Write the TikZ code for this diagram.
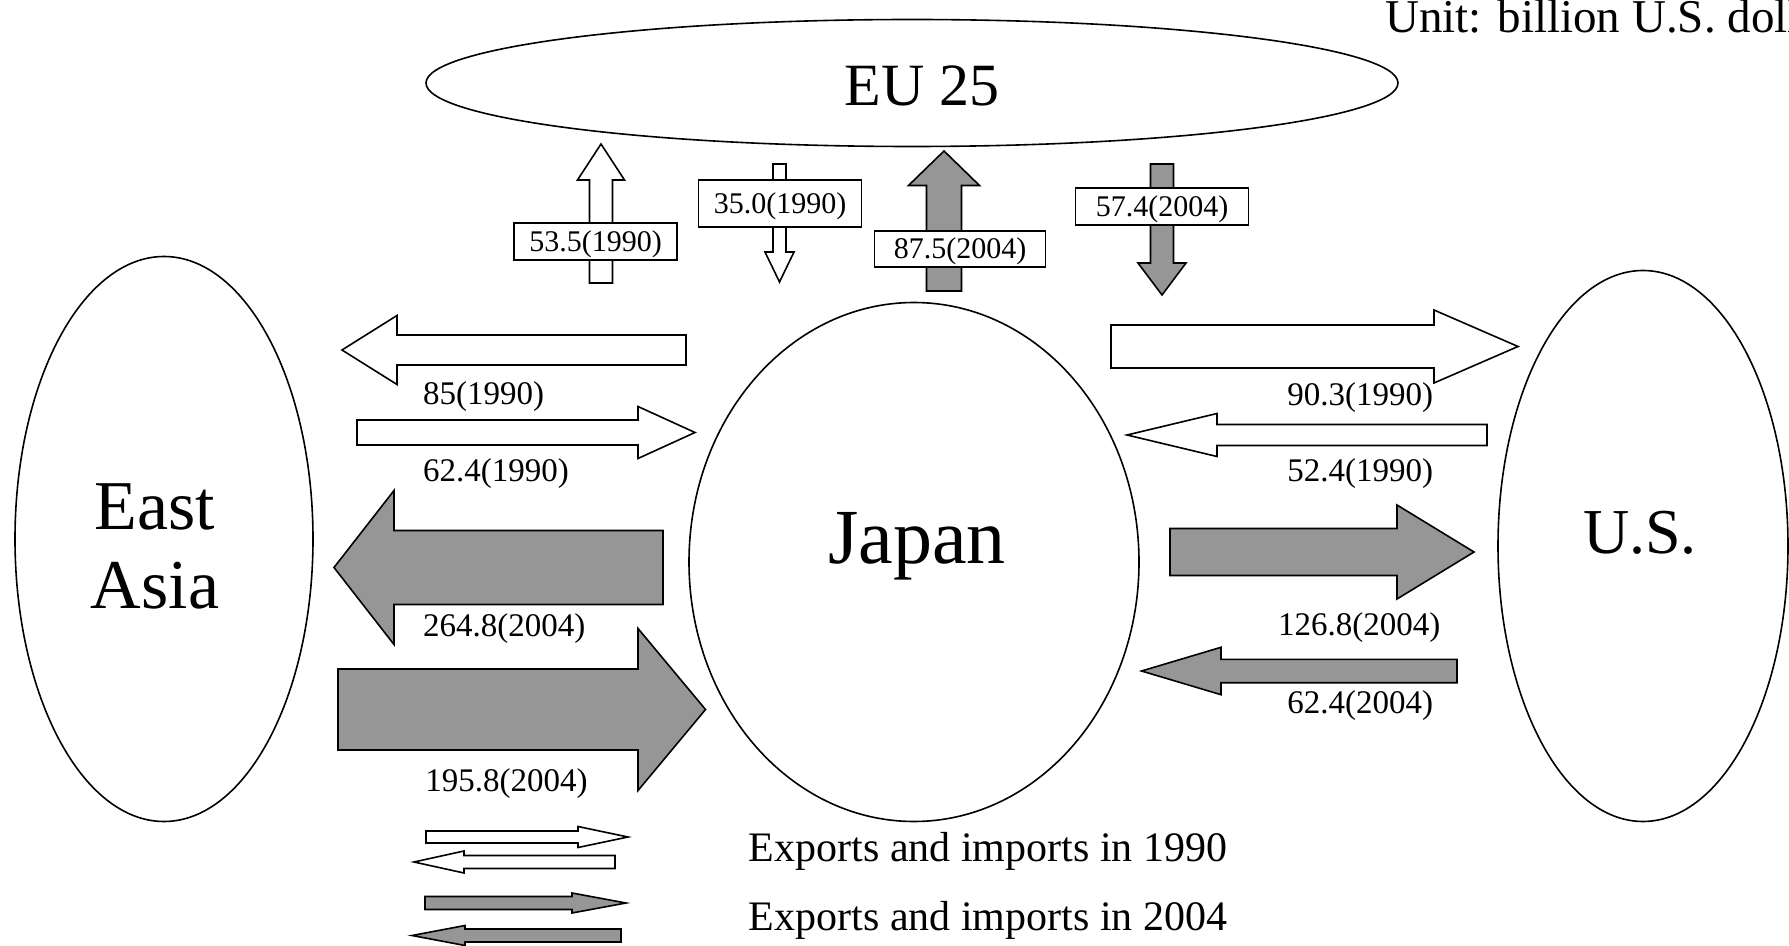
\documentclass[tikz,border=0pt]{standalone}
\usepackage{fontspec}
\setmainfont{Liberation Serif}
\usetikzlibrary{shapes.geometric, positioning}
\definecolor{flowgray}{RGB}{150,150,150}
% block arrow: style, tail, head base, tip, middle, shaft half width, head half width
\newcommand{\harrow}[7]{\draw[#1] (#2,#5-#6) -- (#3,#5-#6) -- (#3,#5-#7) -- (#4,#5) -- (#3,#5+#7) -- (#3,#5+#6) -- (#2,#5+#6) -- cycle;}
\newcommand{\varrow}[7]{\draw[#1] (#5-#6,#2) -- (#5-#6,#3) -- (#5-#7,#3) -- (#5,#4) -- (#5+#7,#3) -- (#5+#6,#3) -- (#5+#6,#2) -- cycle;}

\begin{document}
\begin{tikzpicture}[x=0.5pt, y=-0.5pt,
    region/.style={draw, ellipse, line width=0.8pt},
    flow1990/.style={draw, fill=white, line width=0.8pt},
    flow2004/.style={draw, fill=flowgray, line width=0.8pt},
    valuebox/.style={draw, fill=white, line width=0.8pt, inner sep=0pt, font=\fontsize{15}{18}\selectfont, text height=13.5pt, text depth=3.75pt},
    value/.style={inner sep=0pt, font=\fontsize{16.5}{20}\selectfont},
    legendtext/.style={inner sep=0pt, anchor=base west, font=\fontsize{21}{25}\selectfont}]
    \useasboundingbox (0,0) rectangle (1789,946);
    \node[region, minimum width=486pt, minimum height=63.5pt] (eu) at (912,83) {};
    \node[region, minimum width=149pt, minimum height=282.5pt] (asia) at (164,539) {};
    \node[region, minimum width=225pt, minimum height=259.5pt] (japan) at (914,562) {};
    \node[region, minimum width=145pt, minimum height=275.5pt] (us) at (1643,546) {};
    \node[anchor=base, font=\fontsize{30}{36}\selectfont] (eulabel) at (922,106) {EU 25};
    \node[align=center, font=\fontsize{35}{39.5}\selectfont] (asialabel) at (155,546) {East\\Asia};
    \node[anchor=base, font=\fontsize{39}{46}\selectfont] (japanlabel) at (917,563) {Japan};
    \node[anchor=base, font=\fontsize{32}{38}\selectfont] (uslabel) at (1640,553) {U.S.};
    \node[anchor=base west, inner sep=0pt, font=\fontsize{23.5}{28}\selectfont] (unit) at (1385,33) {Unit: billion U.S. dollars};

    \harrow{flow1990}{686}{397}{342}{350}{15}{34.5}
    \harrow{flow1990}{357}{638}{695}{432.5}{12.5}{26}
    \harrow{flow2004}{663}{394}{334}{567.5}{37}{77}
    \harrow{flow2004}{338}{638}{705.5}{709.5}{40.5}{81}
    \harrow{flow1990}{1111}{1434}{1518}{346.5}{21.5}{36.5}
    \harrow{flow1990}{1487}{1217}{1127}{435}{10.5}{21.5}
    \harrow{flow2004}{1170}{1397}{1474}{552}{23.5}{47}
    \harrow{flow2004}{1457}{1221}{1141.5}{671}{11.7}{23.7}
    \varrow{flow1990}{283}{180}{144}{601}{11.5}{23.5}
    \varrow{flow1990}{164}{252}{282}{779.5}{6.5}{14.5}
    \varrow{flow2004}{291}{185.5}{151}{944}{17.5}{35.5}
    \varrow{flow2004}{164}{263}{295}{1162}{11.5}{24}

    \node[valuebox, minimum width=81.75pt, minimum height=18.5pt] (eu90in) at (595.5,241.5) {53.5(1990)};
    \node[valuebox, minimum width=81.5pt, minimum height=23.5pt] (eu90out) at (780,203.5) {35.0(1990)};
    \node[valuebox, minimum width=85.5pt, minimum height=18.25pt] (eu04in) at (960,249) {87.5(2004)};
    \node[valuebox, minimum width=86.5pt, minimum height=18.5pt] (eu04out) at (1162,206.5) {57.4(2004)};

    \node[value, anchor=base west] (asia90in) at (422.7,405) {85(1990)};
    \node[value, anchor=base west] (asia90out) at (422.7,482) {62.4(1990)};
    \node[value, anchor=base west] (asia04in) at (422.7,636) {264.8(2004)};
    \node[value, anchor=base west] (asia04out) at (425,791) {195.8(2004)};
    \node[value, anchor=base east] (us90out) at (1433.5,406) {90.3(1990)};
    \node[value, anchor=base east] (us90in) at (1433.5,482) {52.4(1990)};
    \node[value, anchor=base east] (us04out) at (1440.7,635) {126.8(2004)};
    \node[value, anchor=base east] (us04in) at (1433.5,713) {62.4(2004)};

    \harrow{flow1990}{426}{578}{628}{837}{6}{10.5}
    \harrow{flow1990}{615}{464}{414}{862}{6.5}{11}
    \harrow{flow2004}{425}{572}{626}{903}{6.5}{10}
    \harrow{flow2004}{621}{465}{412}{935.5}{6.5}{10}
    \node[legendtext] (key1990) at (748.5,861) {Exports and imports in 1990};
    \node[legendtext] (key2004) at (748.5,930) {Exports and imports in 2004};
\end{tikzpicture}
\end{document}
